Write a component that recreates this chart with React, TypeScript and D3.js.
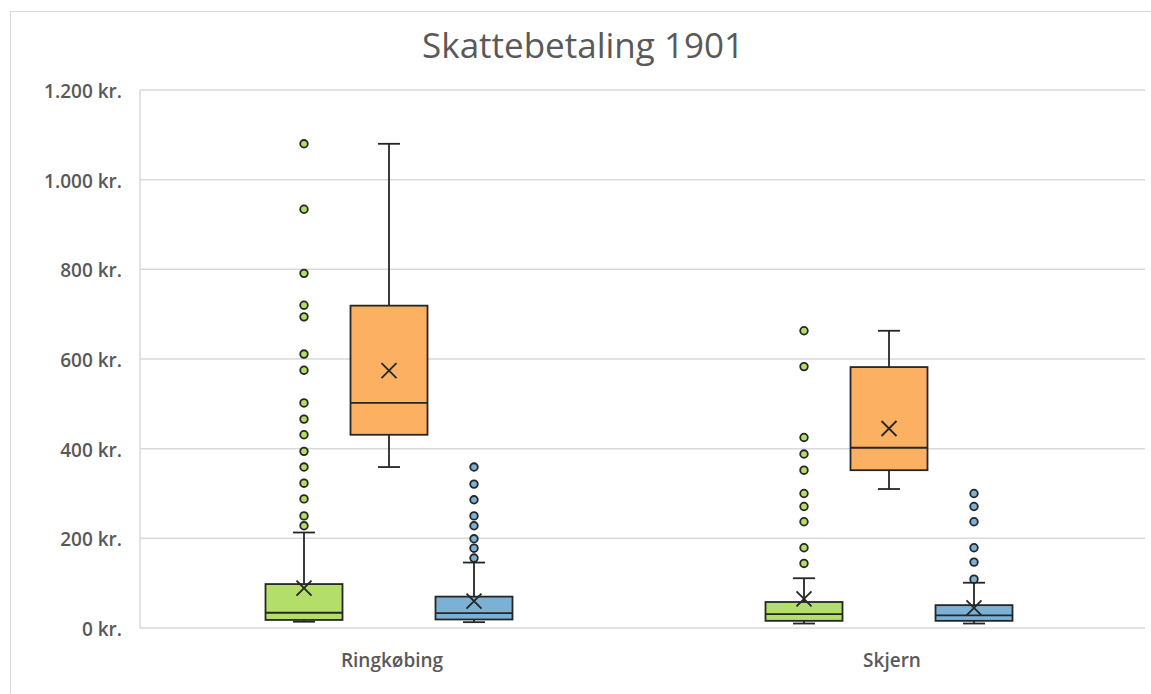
import React from "react";
import * as d3 from "d3";

const categories = ["Ringkøbing", "Skjern"];
const seriesNames = ["Serie 1", "Serie 2", "Serie 3"];
const yTicks = [0, 200, 400, 600, 800, 1000, 1200];

// per series: [Ringkøbing, Skjern]
const whiskerLow = [[14, 10], [359, 310], [13, 10]];
const quartile1 = [[18, 16], [431, 352], [19, 16]];
const medians = [[34, 31], [502, 402], [33, 28]];
const quartile3 = [[98, 58], [719, 582], [70, 51]];
const whiskerHigh = [[213, 111], [1080, 663], [146, 101]];
const means = [[89, 65], [574, 445], [60, 45]];
const outliers1 = [
  [1080, 934, 791, 720, 694, 611, 575, 502, 466, 431, 394, 359, 323, 288, 250, 228],
  [663, 583, 425, 388, 352, 300, 271, 237, 179, 144],
];
const outliers2 = [[], []];
const outliers3 = [
  [359, 321, 286, 250, 228, 199, 178, 156],
  [300, 271, 237, 179, 147, 109],
];
const outliers = [outliers1, outliers2, outliers3];

const COLORS = ["#b3de69", "#fbb161", "#7cb1d6"];
const W = 1151;
const H = 694;
const M = { left: 140, right: 1140, top: 90, bottom: 628 };

const locale = d3.formatLocale({ decimal: ",", thousands: ".", grouping: [3], currency: ["", " kr."] });
const fmt = locale.format(",.0f");
const FONT = "'Open Sans', sans-serif";

export default function App() {
  const y = d3.scaleLinear().domain([0, 1200]).range([M.bottom, M.top]);
  const x = d3.scaleBand<string>().domain(categories).range([M.left, M.right]);
  const inner = d3
    .scaleBand<string>()
    .domain(seriesNames)
    .range([0, 247])
    .paddingInner(8 / 85);
  const bw = inner.bandwidth();
  const stroke = "#262626";
  const sw = 1.8;

  return (
    <svg width={W} height={H} style={{ position: "absolute", left: 0, top: 0, background: "#fff" }}>
      <rect x={10.5} y={11.5} width={W + 10} height={H + 10} fill="#fff" stroke="#d9d9d9" />
      <text x={583} y={58} textAnchor="middle" fontFamily={FONT} fontSize={35} fill="#595959">
        Skattebetaling 1901
      </text>
      {yTicks.map((t) => (
        <g key={t}>
          <line x1={M.left} x2={1145} y1={y(t)} y2={y(t)} stroke="#d9d9d9" strokeWidth={1.5} />
          <text
            x={122}
            y={y(t) + 8}
            textAnchor="end"
            fontFamily={FONT}
            fontWeight={600}
            fontSize={19}
            fill="#595959"
          >
            {fmt(t) + " kr."}
          </text>
        </g>
      ))}
      <line x1={M.left} x2={M.left} y1={M.top} y2={M.bottom} stroke="#d9d9d9" strokeWidth={1.5} />
      {categories.map((c) => (
        <text
          key={c}
          x={(x(c) as number) + x.bandwidth() / 2 + 2}
          y={667}
          textAnchor="middle"
          fontFamily={FONT}
          fontWeight={600}
          fontSize={19}
          fill="#595959"
        >
          {c}
        </text>
      ))}
      {seriesNames.map((s, si) =>
        categories.map((c, ci) => {
          const gx = (x(c) as number) + x.bandwidth() / 2 - 247 / 2 - 1;
          const x0 = gx + (inner(s) as number);
          const cx = x0 + bw / 2;
          const cap = 11;
          const mx = means[si][ci];
          return (
            <g key={s + c}>
              <line x1={cx} x2={cx} y1={y(whiskerHigh[si][ci])} y2={y(quartile3[si][ci])} stroke={stroke} strokeWidth={sw} />
              <line x1={cx} x2={cx} y1={y(whiskerLow[si][ci])} y2={y(quartile1[si][ci])} stroke={stroke} strokeWidth={sw} />
              <line x1={cx - cap} x2={cx + cap} y1={y(whiskerHigh[si][ci])} y2={y(whiskerHigh[si][ci])} stroke={stroke} strokeWidth={sw} />
              <line x1={cx - cap} x2={cx + cap} y1={y(whiskerLow[si][ci])} y2={y(whiskerLow[si][ci])} stroke={stroke} strokeWidth={sw} />
              <rect
                x={x0}
                y={y(quartile3[si][ci])}
                width={bw}
                height={y(quartile1[si][ci]) - y(quartile3[si][ci])}
                fill={COLORS[si]}
                stroke={stroke}
                strokeWidth={sw}
              />
              <line x1={x0} x2={x0 + bw} y1={y(medians[si][ci])} y2={y(medians[si][ci])} stroke={stroke} strokeWidth={sw} />
              <path
                d={`M${cx - 7.5},${y(mx) - 7.5}L${cx + 7.5},${y(mx) + 7.5}M${cx - 7.5},${y(mx) + 7.5}L${cx + 7.5},${y(mx) - 7.5}`}
                stroke={stroke}
                strokeWidth={sw}
                fill="none"
              />
              {outliers[si][ci].map((v, k) => (
                <circle key={k} cx={cx} cy={y(v)} r={3.8} fill={COLORS[si]} stroke={stroke} strokeWidth={sw} />
              ))}
            </g>
          );
        })
      )}
    </svg>
  );
}
